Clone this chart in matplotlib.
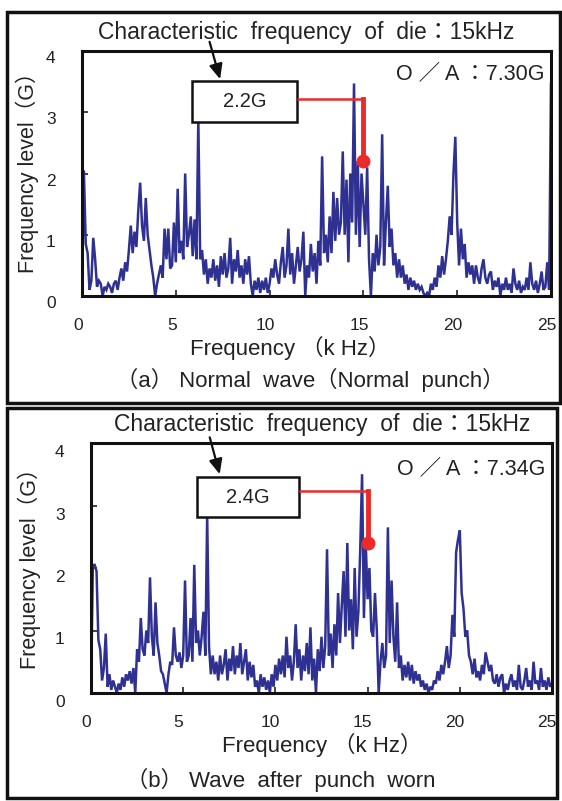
"""
Spectrum of die vibration: normal punch vs worn punch.
Two framed panels, each with an annotated 15 kHz component.
"""

import numpy as np
import matplotlib
matplotlib.use("Agg")
import matplotlib.pyplot as plt
from matplotlib.patches import Rectangle
from matplotlib.transforms import ScaledTranslation

# ---- Data (0.1 kHz step) ----
freq_khz = np.round(np.arange(0, 251) * 0.1, 1)

level_a = [
    0.0, 2.05, 0.85, 0.7, 0.1, 0.25, 0.95, 0.6, 0.15, 0.25,
    0.2, 0.0, 0.15, 0.1, 0.2, 0.15, 0.05, 0.2, 0.25, 0.1,
    0.3, 0.45, 0.25, 0.55, 0.4, 0.75, 1.15, 0.7, 1.05, 0.8,
    1.4, 1.85, 1.15, 0.9, 1.6, 1.0, 0.75, 0.5, 0.3, 0.0,
    0.2, 0.35, 0.5, 0.3, 1.1, 0.6, 1.1, 0.45, 0.5, 1.2,
    0.55, 1.75, 0.7, 0.9, 0.6, 2.0, 0.8, 1.0, 1.3, 0.65,
    1.25, 0.6, 2.9, 0.6, 0.75, 0.35, 0.6, 0.2, 0.45, 0.3,
    0.6, 0.25, 0.5, 0.15, 0.65, 0.35, 0.7, 0.3, 0.45, 0.95,
    0.2, 0.6, 0.4, 0.75, 0.3, 0.5, 0.2, 0.6, 0.35, 0.65,
    0.2, 0.0, 0.25, 0.1, 0.3, 0.05, 0.25, 0.1, 0.3, 0.05,
    0.2, 0.45, 0.3, 0.6, 0.35, 0.2, 0.55, 0.8, 0.3, 0.5,
    1.1, 0.35, 0.7, 0.2, 0.5, 0.8, 0.4, 0.6, 1.05, 0.0,
    0.5, 0.3, 0.85, 0.4, 0.7, 0.2, 0.9, 0.5, 2.28, 0.7,
    1.0, 0.55, 1.3, 0.7, 1.7, 0.9, 1.6, 1.0, 1.2, 2.36,
    1.0, 1.9, 0.55, 2.0, 1.2, 3.47, 1.0, 2.2, 0.8, 2.0,
    1.5, 1.0, 2.1, 0.6, 0.0, 0.7, 0.4, 1.0, 0.5, 0.8,
    2.64, 0.5, 1.2, 1.8, 0.8, 1.1, 0.5, 0.7, 0.3, 0.6,
    0.3, 0.5, 0.2, 0.35, 0.1, 0.3, 0.15, 0.25, 0.1, 0.2,
    0.1, 0.15, 0.05, 0.0, 0.05, 0.0, 0.2, 0.1, 0.3, 0.15,
    0.5, 0.3, 0.65, 0.35, 0.6, 0.9, 1.3, 1.0, 2.0, 2.6,
    1.2, 0.5, 1.1, 0.6, 0.85, 0.3, 0.55, 0.35, 0.5, 0.2,
    0.5, 0.3, 0.2, 0.45, 0.6, 0.3, 0.2, 0.35, 0.4, 0.1,
    0.25, 0.15, 0.3, 0.0, 0.2, 0.1, 0.3, 0.1, 0.2, 0.05,
    0.45, 0.2, 0.1, 0.25, 0.05, 0.15, 0.1, 0.3, 0.1, 0.55,
    0.2, 0.1, 0.25, 0.05, 0.2, 0.4, 0.1, 0.15, 0.55, 0.1,
    3.47,
]

level_b = [
    0.0, 2.05, 2.05, 1.95, 0.85, 0.7, 0.2, 0.4, 0.95, 0.1,
    0.3, 0.05, 0.2, 0.1, 0.0, 0.15, 0.05, 0.25, 0.1, 0.3,
    0.2, 0.35, 0.15, 0.4, 0.0, 0.7, 0.5, 1.2, 0.7, 0.6,
    1.0, 0.8, 1.85, 0.9, 0.6, 1.45, 0.8, 0.6, 0.35, 0.3,
    0.15, 0.0, 0.3, 0.5, 0.45, 1.05, 0.6, 0.5, 0.65, 0.4,
    0.6, 1.8, 0.5, 0.6, 1.2, 0.5, 2.05, 0.8, 1.0, 0.6,
    0.9, 1.3, 0.6, 2.85, 0.75, 0.3, 0.6, 0.3, 0.5, 0.2,
    0.6, 0.3, 0.45, 0.7, 0.2, 0.55, 0.35, 0.75, 0.3, 0.6,
    0.4, 0.8, 0.3, 0.5, 0.7, 0.2, 0.5, 0.25, 0.45, 0.1,
    0.2, 0.0, 0.3, 0.1, 0.25, 0.05, 0.2, 0.0, 0.3, 0.1,
    0.45, 0.2, 0.55, 0.3, 0.6, 0.25, 0.9, 0.4, 0.6, 0.2,
    0.5, 1.1, 0.4, 0.7, 0.2, 0.6, 0.35, 0.8, 0.3, 1.05,
    0.2, 0.55, 0.0, 0.7, 0.35, 0.9, 0.4, 0.75, 2.3, 0.6,
    0.95, 0.4, 1.1, 0.6, 1.6, 0.8, 1.4, 1.95, 0.9, 2.4,
    1.0, 1.5, 0.7, 2.0, 0.9, 1.3, 2.3, 3.5, 1.2, 2.4,
    1.5, 2.0, 1.0, 0.9, 1.6, 1.0, 0.0, 0.5, 0.8, 0.4,
    0.6, 2.65, 0.8, 1.8, 0.9, 0.5, 1.45, 0.4, 0.6, 0.2,
    0.45, 0.25, 0.5, 0.2, 0.45, 0.15, 0.35, 0.2, 0.3, 0.1,
    0.2, 0.05, 0.15, 0.0, 0.1, 0.05, 0.2, 0.15, 0.35, 0.2,
    0.45, 0.3, 0.5, 0.75, 0.4, 0.6, 1.25, 0.9, 2.25, 2.45,
    2.6, 1.6, 1.35, 0.9, 1.0, 0.6, 0.5, 0.3, 0.55, 0.25,
    0.35, 0.2, 0.45, 0.3, 0.65, 0.5, 0.35, 0.45, 0.2, 0.15,
    0.3, 0.1, 0.25, 0.3, 0.0, 0.15, 0.05, 0.2, 0.3, 0.1,
    0.2, 0.05, 0.45, 0.1, 0.05, 0.2, 0.4, 0.1, 0.2, 0.05,
    0.5, 0.15, 0.2, 0.05, 0.4, 0.1, 0.2, 0.05, 0.25, 0.1,
    0.15,
]

x_ticks = [0, 5, 10, 15, 20, 25]
y_ticks = [0, 1, 2, 3, 4]

die_freq = 15.0                      # kHz
peak_a, peak_b = 2.2, 2.4            # G at 15 kHz
overall_a, overall_b = 7.30, 7.34    # O/A values

BLUE = "#2e3192"
RED = "#ec2a2a"
TXT = "#222222"
FONT = ["Liberation Sans", "Noto Sans CJK JP", "DejaVu Sans"]
plt.rcParams["font.family"] = FONT

W, H = 562, 801
fig = plt.figure(figsize=(W / 100, H / 100), dpi=100)


def fx(px):
    return px / W


def fy(py):
    return 1 - py / H


def panel(box, level, peak, overall, ann, frame, txt, shift):
    left, top, right, bottom = box
    ax = fig.add_axes([fx(left), fy(bottom), fx(right - left), (bottom - top) / H])
    ax.plot(freq_khz, level, color=BLUE, lw=1.8, solid_joinstyle="miter")
    ax.set_xlim(0, 25)
    ax.set_ylim(0, 4)
    ax.set_xticks(x_ticks)
    ax.set_yticks(y_ticks)
    ax.tick_params(direction="in", length=4, width=1.2, labelsize=12.5,
                   pad=16, top=False, right=False, colors=TXT)
    ax.tick_params(axis="y", pad=19)
    for s in ax.spines.values():
        s.set_linewidth(2.2)
        s.set_color("#111111")
    dx, dy = shift
    for lab in ax.get_xticklabels():
        lab.set_transform(lab.get_transform() + ScaledTranslation(dx / 100, 0, fig.dpi_scale_trans))
    for lab in ax.get_yticklabels():
        lab.set_transform(lab.get_transform() + ScaledTranslation(0, -dy / 100, fig.dpi_scale_trans))

    # annotation box and red marker at the die frequency
    bx0, bx1, by0, by1, ly, arrow = ann
    ax.add_patch(Rectangle((bx0, by0), bx1 - bx0, by1 - by0, facecolor="white",
                           edgecolor="#111111", lw=1.8, zorder=5, clip_on=False))
    ax.text((bx0 + bx1) / 2, (by0 + by1) / 2, f"{peak:.1f}G", ha="center", va="center",
            fontsize=14.5, color=TXT, zorder=6)
    ax.plot([bx1, die_freq], [ly, ly], color=RED, lw=1.8, zorder=6, solid_capstyle="butt")
    ax.plot([die_freq, die_freq], [ly, peak], color=RED, lw=3.5, zorder=6)
    ax.plot(die_freq, peak, "o", color=RED, ms=9, zorder=7)
    ax.annotate("", xy=arrow[1], xytext=arrow[0], annotation_clip=False,
                arrowprops=dict(arrowstyle="-|>,head_length=0.9,head_width=0.4",
                                color="#111111", lw=1.6, shrinkA=0, shrinkB=0))

    # outer frame
    fl, ft, fr, fb = frame
    fig.add_artist(Rectangle((fx(fl), fy(fb)), fx(fr - fl), (fb - ft) / H,
                             transform=fig.transFigure, fill=False,
                             edgecolor="#111111", lw=2.5))

    # texts
    (tx, ty), (ox, oy), (ylx, yly), (xlx, xly), (cx, cy), caption = txt
    fig.text(fx(tx), fy(ty), "Characteristic  frequency  of  die：15kHz",
             ha="center", va="center", fontsize=16.5, color=TXT)
    fig.text(fx(ox), fy(oy), f"O ／ A ：{overall:.2f}G",
             ha="right", va="center", fontsize=15.5, color=TXT)
    fig.text(fx(ylx), fy(yly), "Frequency level（G）", rotation=90,
             ha="center", va="center", fontsize=15.5, color=TXT)
    fig.text(fx(xlx), fy(xly), "Frequency （k Hz）",
             ha="center", va="center", fontsize=16, color=TXT)
    fig.text(fx(cx), fy(cy), caption,
             ha="center", va="center", fontsize=16, color=TXT)
    return ax


# Panel (a): normal punch
panel(box=(82, 51, 551, 296), level=level_a, peak=peak_a, overall=overall_a,
      ann=(5.86, 11.46, 2.84, 3.51, 3.22, ((6.8, 4.15), (7.36, 3.54))),
      frame=(7, 12, 560, 403),
      txt=((306, 32), (545, 75), (27, 167), (290, 348), (310, 380),
           "（a） Normal  wave（Normal  punch）"),
      shift=(-4, 6))

# Panel (b): punch worn
panel(box=(91, 443, 552, 693), level=level_b, peak=peak_b, overall=overall_b,
      ann=(5.73, 11.27, 2.81, 3.46, 3.23, ((6.44, 4.09), (6.98, 3.5))),
      frame=(7, 408, 557, 798),
      txt=((322, 425), (545, 470), (29, 563), (322, 745), (281, 780),
           "（b） Wave  after  punch  worn"),
      shift=(-5, 8))

fig.savefig("out.png", dpi=100)
